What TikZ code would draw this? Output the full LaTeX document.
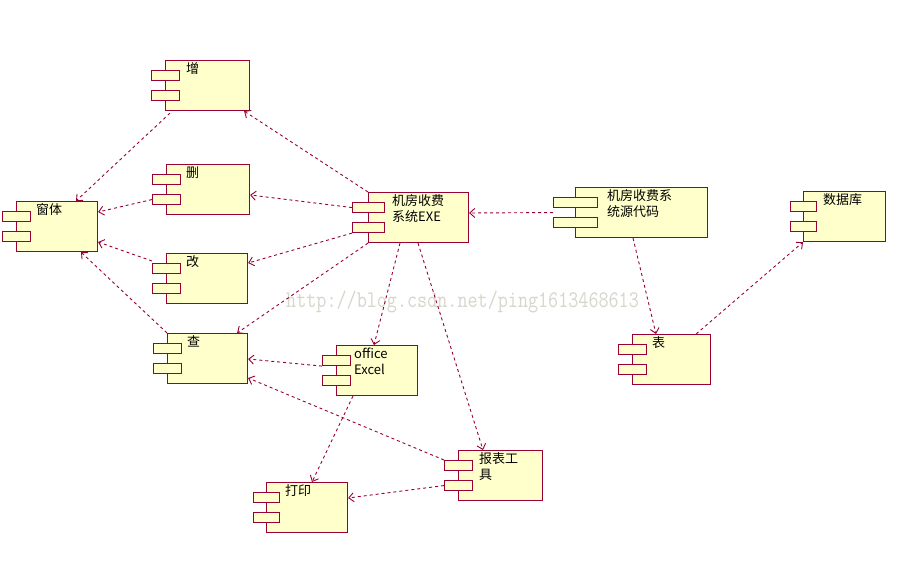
\documentclass[tikz,border=0pt]{standalone}
\usepackage{fontspec}
\setmainfont{Noto Sans CJK SC}
\usetikzlibrary{arrows.meta,calc}
\definecolor{umlred}{RGB}{153,0,51}
\definecolor{umlfill}{RGB}{255,255,204}
\definecolor{wmgray}{RGB}{214,214,204}
\tikzset{
  compbox/.style={draw=umlred, fill=umlfill, line width=1.1pt, minimum height=50pt, inner sep=0pt, anchor=north west},
  tabbox/.style={draw=umlred, fill=umlfill, line width=1.1pt, minimum height=10pt, inner sep=0pt, anchor=north west},
  comptext/.style={anchor=north west, inner sep=0pt, align=left, font=\fontsize{13pt}{16pt}\selectfont},
  dep/.style={draw=umlred, dash pattern=on 3pt off 3pt, line width=0.9pt, -{Straight Barb[length=5pt,width=9pt,line width=0.9pt]}},
}
% name, left, top, width, tab half width, text dx, text
\newcommand\comp[7]{%
  \node[compbox, minimum width=#4pt] (#1) at (#2,#3) {};
  \node[tabbox, minimum width=2*#5pt] (#1-t1) at (#2-#5,#3+10) {};
  \node[tabbox, minimum width=2*#5pt] (#1-t2) at (#2-#5,#3+30) {};
  \node[comptext] (#1-txt) at (#2+#6,#3+2.5) {#7};
}
\begin{document}
\begin{tikzpicture}[x=1pt,y=-1pt]
\fill[white] (0,0) rectangle (907,580);
\useasboundingbox (0,0) rectangle (907,580);
\comp{zeng}{165}{60}{84}{14}{21}{增}
\comp{chuangti}{16}{201}{81}{14}{20}{窗体}
\comp{shan}{166}{164}{83}{14}{20}{删}
\comp{gai}{166}{253}{81}{14}{20}{改}
\comp{cha}{167}{333}{80}{14}{20}{查}
\comp{exe}{368}{192}{100}{16}{24}{机房收费\\系统EXE}
\comp{src}{575}{187}{132}{22}{32}{机房收费系\\统源代码}
\comp{db}{803}{191}{82}{13}{20}{数据库}
\comp{biao}{632}{334}{78}{14}{20}{表}
\comp{office}{336}{345}{81}{14}{18}{office\\Excel}
\comp{baobiao}{458}{450}{84}{14}{21}{报表工\\具}
\comp{dayin}{266}{482}{81}{13}{19}{打印}
\node[anchor=base west, inner sep=0pt, text=wmgray, font=\ttfamily\fontsize{19pt}{19pt}\selectfont] (wm) at (286,307) {\scalebox{1.03}[1.25]{http://blog.csdn.net/ping1613468613}};
% dependencies
\draw[dep] (exe.north west) -- ($(zeng.south east)+(-6,0)$);
\draw[dep] (exe-t1.west) -- ($(shan.north east)+(0,31)$);
\draw[dep] (exe-t2.south west) -- ($(gai.north east)+(0,10)$);
\draw[dep] (exe.south west) -- ($(cha.north east)+(-11,0)$);
\draw[dep] ($(exe.south west)+(32,0)$) -- ($(office.north west)+(38,0)$);
\draw[dep] ($(exe.south west)+(50,0)$) -- ($(baobiao.north west)+(25,0)$);
\draw[dep] ($(src.west)+(-22,0)$) -- ($(exe.north east)+(0,21)$);
\draw[dep] ($(src.south west)+(58,0)$) -- ($(biao.north west)+(24,0)$);
\draw[dep] ($(biao.north east)+(-15,0)$) -- (db.south west);
\draw[dep] ($(zeng.south west)+(5,2)$) -- ($(chuangti.north west)+(60,0)$);
\draw[dep] (shan-t2.west) -- ($(chuangti.north east)+(0,11)$);
\draw[dep] ($(gai-t1.north west)+(0,-2)$) -- ($(chuangti.north east)+(0,41)$);
\draw[dep] (cha.north west) -- ($(chuangti.south west)+(65,0)$);
\draw[dep] (office-t1.south west) -- ($(cha.north east)+(0,26)$);
\draw[dep] ($(office.south west)+(17,0)$) -- ($(dayin.north west)+(46,0)$);
\draw[dep] (baobiao-t1.north west) -- ($(cha.north east)+(0,45)$);
\draw[dep] (baobiao-t2.west) -- ($(dayin.north east)+(0,16)$);
\end{tikzpicture}
\end{document}
